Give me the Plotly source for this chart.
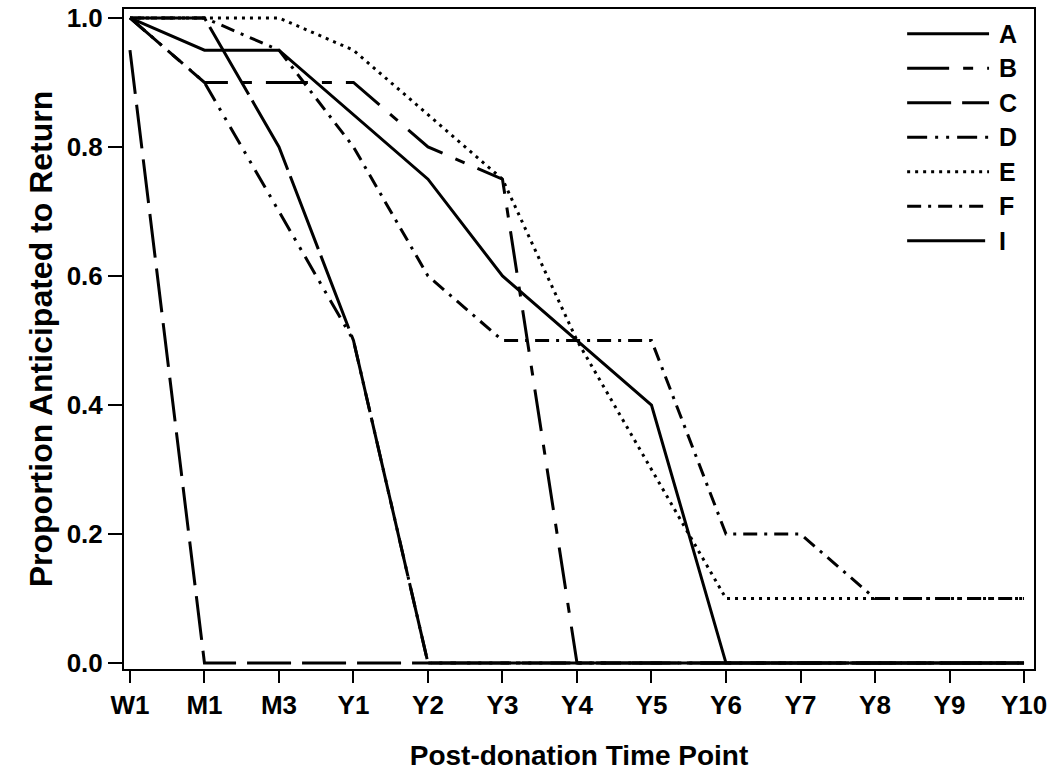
import plotly.graph_objects as go

time_points = ["W1", "M1", "M3", "Y1", "Y2", "Y3", "Y4", "Y5", "Y6", "Y7", "Y8", "Y9", "Y10"]

series_names = ["A", "B", "C", "D", "E", "F", "I"]
A = [1.0, 0.95, 0.95, 0.85, 0.75, 0.6, 0.5, 0.4, 0.0, 0.0, 0.0, 0.0, 0.0]
B = [1.0, 0.9, 0.9, 0.9, 0.8, 0.75, 0.0, 0.0, 0.0, 0.0, 0.0, 0.0, 0.0]
C = [0.95, 0.0, 0.0, 0.0, 0.0, 0.0, 0.0, 0.0, 0.0, 0.0, 0.0, 0.0, 0.0]
D = [1.0, 0.9, 0.7, 0.5, 0.0, 0.0, 0.0, 0.0, 0.0, 0.0, 0.0, 0.0, 0.0]
E = [1.0, 1.0, 1.0, 0.95, 0.85, 0.75, 0.5, 0.3, 0.1, 0.1, 0.1, 0.1, 0.1]
F = [1.0, 1.0, 0.95, 0.8, 0.6, 0.5, 0.5, 0.5, 0.2, 0.2, 0.1, 0.1, 0.1]
I = [1.0, 1.0, 0.8, 0.5, 0.0, 0.0, 0.0, 0.0, 0.0, 0.0, 0.0, 0.0, 0.0]
series_values = [A, B, C, D, E, F, I]

y_ticks = [0.0, 0.2, 0.4, 0.6, 0.8, 1.0]
y_ticklabels = ["0.0", "0.2", "0.4", "0.6", "0.8", "1.0"]

dash_styles = {
    "A": "solid",
    "B": "42px,14px,10px,14px",
    "C": "44px,11px",
    "D": "20px,8px,3px,8px,3px,8px",
    "E": "3px,5px",
    "F": "14px,7px,3px,7px",
    "I": "78px,7px",
}

FONT = "Liberation Sans, Arial, sans-serif"

fig = go.Figure()
for name, vals in zip(series_names, series_values):
    fig.add_trace(go.Scatter(
        x=time_points, y=vals, mode="lines", name=name,
        line=dict(color="black", width=3, dash=dash_styles[name]),
        showlegend=False,
    ))

# plot-area geometry in pixels
W, H = 1050, 771
L, R, T, Bm = 124, 15, 3, 102
pw, ph = W - L - R, H - T - Bm

def px_x(px):
    return (px - L) / pw

def px_y(py):
    return (H - Bm - py) / ph

# manual legend (sample lines + labels)
shapes = []
annotations = []
for k, name in enumerate(series_names):
    yc = 28 + k * 34.8
    shapes.append(dict(type="line", xref="paper", yref="paper",
                       x0=px_x(908), x1=px_x(990), y0=px_y(yc), y1=px_y(yc),
                       line=dict(color="black", width=3, dash=dash_styles[name])))
    annotations.append(dict(xref="paper", yref="paper", x=px_x(998), y=px_y(yc),
                            text=name, showarrow=False, xanchor="left", yanchor="middle",
                            font=dict(family=FONT, size=25, color="black", weight="bold")))

fig.update_layout(
    width=W, height=H,
    margin=dict(l=L, r=R, t=T, b=Bm, pad=0),
    paper_bgcolor="white", plot_bgcolor="white",
    shapes=shapes, annotations=annotations,
    font=dict(family=FONT, color="black"),
)
fig.update_xaxes(
    type="category", categoryorder="array", categoryarray=time_points,
    range=[-0.08, 12.134],
    showgrid=False, zeroline=False,
    showline=True, linecolor="black", linewidth=2, mirror=True,
    ticks="outside", ticklen=12, tickwidth=1.5, tickcolor="black",
    ticklabeloverflow="allow",
    tickfont=dict(family=FONT, size=26, color="black", weight="bold"),
    title=dict(text="Post-donation Time Point", standoff=26,
               font=dict(family=FONT, size=28, color="black", weight="bold")),
)
fig.update_yaxes(
    range=[-0.0092, 1.0138],
    tickvals=y_ticks, ticktext=y_ticklabels,
    showgrid=False, zeroline=False,
    showline=True, linecolor="black", linewidth=2, mirror=True,
    ticks="outside", ticklen=14, tickwidth=1.5, tickcolor="black",
    ticklabeloverflow="allow",
    tickfont=dict(family=FONT, size=26, color="black", weight="bold"),
    title=dict(text="Proportion Anticipated to Return", standoff=4,
               font=dict(family=FONT, size=32, color="black", weight="bold")),
)

fig.write_html("out.html", config={"displayModeBar": False},
               post_script="document.body.style.margin='0';")
